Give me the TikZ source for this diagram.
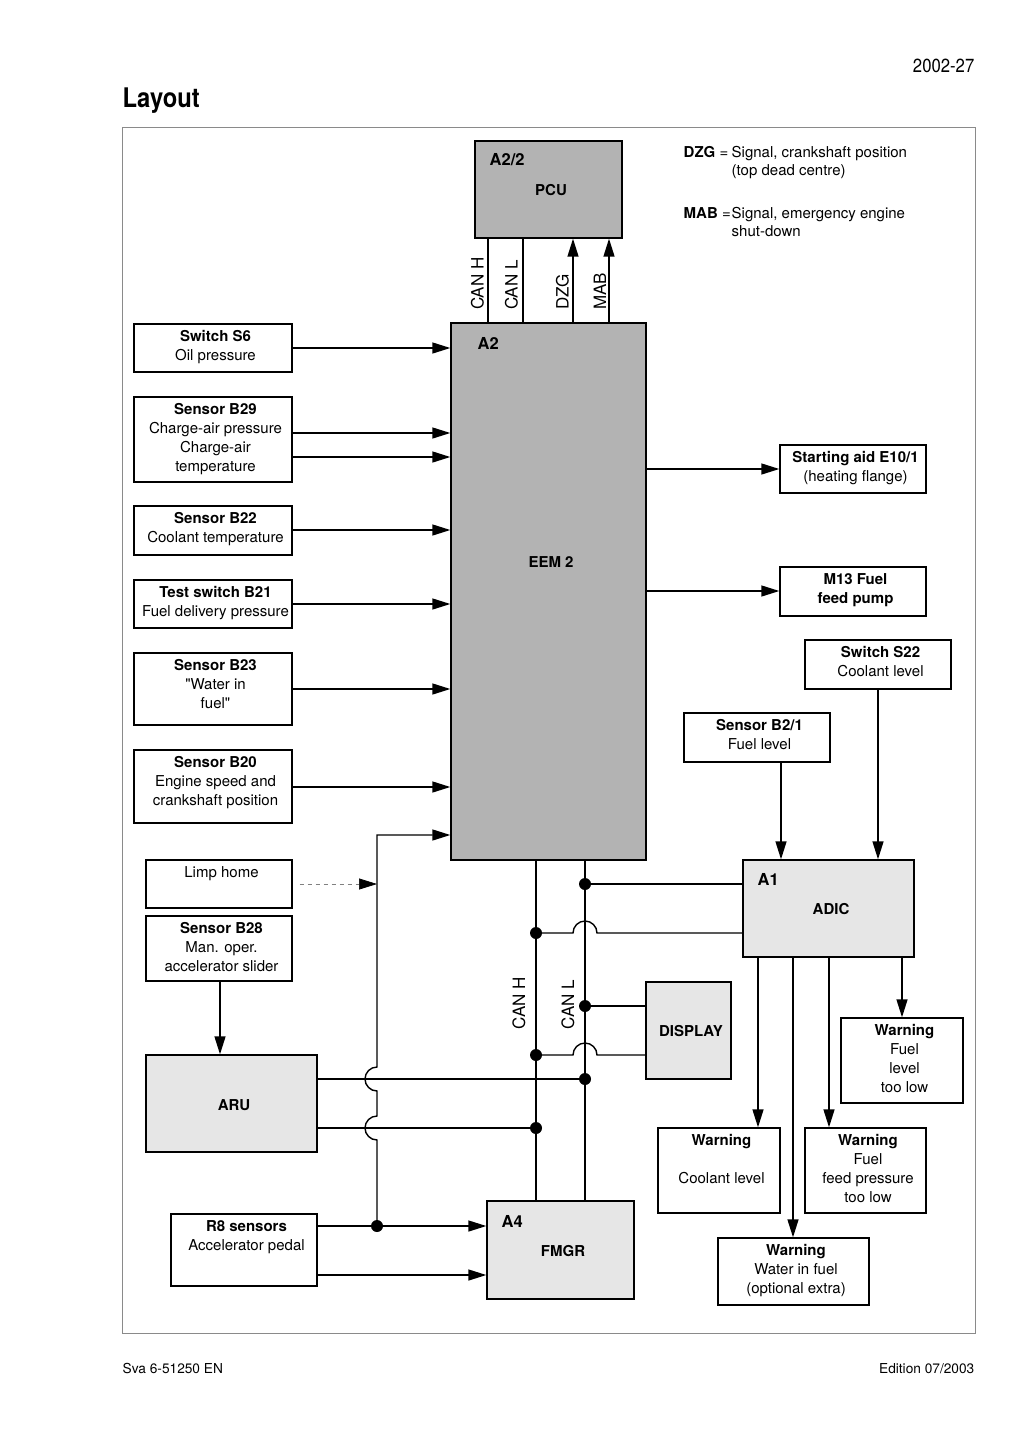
\documentclass[tikz,border=0pt]{standalone}
\usepackage{fontspec}
\setmainfont{TeX Gyre Heros}
\newfontfamily\narrowfont[FakeStretch=0.88]{TeX Gyre Heros}
\usetikzlibrary{arrows.meta,calc}
\definecolor{darkfill}{HTML}{B3B3B3}
\definecolor{lightfill}{HTML}{E6E6E6}
\definecolor{framegray}{HTML}{8A8A8A}
\newcommand\smallbx[6]{%
  \node[box,fill=white,minimum width=#4pt,minimum height=#5pt] (#1) at (#2,#3) {};
  \node[lbl] (#1t) at ([xshift=2.5pt,yshift=-6.5pt]#1.north) {#6};}
\begin{document}
\begin{tikzpicture}[x=1pt,y=-1pt,
  line width=1.4pt,
  box/.style={draw=black,line width=1.4pt,inner sep=0pt,rectangle},
  lbl/.style={inner sep=0pt,align=center,anchor=north,font=\fontsize{15}{19}\selectfont},
  txt/.style={inner sep=0pt,font=\fontsize{15}{19}\selectfont},
  bigtxt/.style={inner sep=0pt,font=\fontsize{17}{19}\selectfont},
  btxt/.style={inner sep=0pt,font=\fontsize{15}{19}\selectfont\bfseries},
  atxt/.style={inner sep=0pt,font=\fontsize{16.5}{19}\selectfont\bfseries},
  arr/.style={-{Triangle[length=18pt,width=11pt]}},
  dot/.style={circle,fill=black,inner sep=0pt,minimum size=12pt}]
\useasboundingbox (0,0) rectangle (1024,1447);

% header / footer
\node[inner sep=0pt,anchor=base east,font=\fontsize{19}{21}\narrowfont] (hdr) at (975,73) {2002-27};
\node[inner sep=0pt,anchor=base west,font=\fontsize{27}{30}\narrowfont\bfseries] (title) at (122,108) {Layout};
\node[inner sep=0pt,anchor=base west,font=\fontsize{13.7}{16}\selectfont] (ftl) at (122,1373) {Sva 6-51250 EN};
\node[inner sep=0pt,anchor=base east,font=\fontsize{13.7}{16}\selectfont] (ftr) at (975,1373) {Edition 07/2003};

% frame
\draw[framegray,line width=1pt] (122,128) rectangle (975,1333);

% big units
\node[box,fill=darkfill,minimum width=147pt,minimum height=97pt] (pcu) at (548.5,189.5) {};
\node[atxt,anchor=west] (pcut1) at (489,160) {A2/2};
\node[btxt] (pcut2) at (551,190) {PCU};

\node[box,fill=darkfill,minimum width=195pt,minimum height=537pt] (a2) at (548.5,591.5) {};
\node[atxt,anchor=west] (a2t1) at (477,343) {A2};
\node[btxt] (a2t2) at (551,562) {EEM 2};

\node[box,fill=lightfill,minimum width=171pt,minimum height=97pt] (adic) at (828.5,908.5) {};
\node[atxt,anchor=west] (adict1) at (757,879) {A1};
\node[btxt] (adict2) at (831,909) {ADIC};

\node[box,fill=lightfill,minimum width=85pt,minimum height=97pt] (disp) at (688.5,1030.5) {};
\node[btxt] (dispt) at (691,1031) {DISPLAY};

\node[box,fill=lightfill,minimum width=171pt,minimum height=97pt] (aru) at (231.5,1103.5) {};
\node[btxt] (arut) at (234,1105) {ARU};

\node[box,fill=lightfill,minimum width=147pt,minimum height=98pt] (fmgr) at (560.5,1250) {};
\node[atxt,anchor=west] (fmgrt1) at (501,1221) {A4};
\node[btxt] (fmgrt2) at (563,1251) {FMGR};

% legend
\node[txt,anchor=base west] (lg1) at (683,157.5) {\textbf{DZG} =};
\node[txt,anchor=base west] (lg2) at (731,157.5) {Signal, crankshaft position};
\node[txt,anchor=base west] (lg3) at (731,175.5) {(top dead centre)};
\node[txt,anchor=base west] (lg4) at (683,218.5) {\textbf{MAB} =};
\node[txt,anchor=base west] (lg5) at (731,218.5) {Signal, emergency engine};
\node[txt,anchor=base west] (lg6) at (731,236.5) {shut-down};

% small boxes
\smallbx{s6}{213}{348}{158}{48}{\textbf{Switch S6}\\Oil pressure}
\smallbx{b29}{213}{439.5}{158}{85}{\textbf{Sensor B29}\\Charge-air pressure\\Charge-air\\temperature}
\smallbx{b22}{213}{530.5}{158}{49}{\textbf{Sensor B22}\\Coolant temperature}
\smallbx{b21}{213}{604}{158}{48}{\textbf{Test switch B21}\\Fuel delivery pressure}
\smallbx{b23}{213}{689}{158}{72}{\textbf{Sensor B23}\\\textquotedbl Water in\\fuel\textquotedbl}
\smallbx{b20}{213}{786.5}{158}{73}{\textbf{Sensor B20}\\Engine speed and\\crankshaft position}
\smallbx{limp}{219}{884}{146}{48}{Limp home}
\smallbx{b28}{219}{948.5}{146}{65}{\textbf{Sensor B28}\\Man. oper.\\accelerator slider}
\smallbx{r8}{244}{1250}{146}{72}{\textbf{R8 sensors}\\Accelerator pedal}
\smallbx{e10}{853}{469}{146}{48}{\textbf{Starting aid E10/1}\\(heating flange)}
\smallbx{m13}{853}{591.5}{146}{49}{\textbf{M13 Fuel}\\\textbf{feed pump}}
\smallbx{s22}{878}{664.5}{146}{49}{\textbf{Switch S22}\\Coolant level}
\smallbx{b2a}{757}{737.5}{146}{49}{\textbf{Sensor B2/1}\\Fuel level}
\smallbx{wfl}{902}{1060.5}{122}{85}{\textbf{Warning}\\Fuel\\level\\too low}
\smallbx{wcl}{719}{1170.5}{122}{85}{\textbf{Warning}\\[19pt]Coolant level}
\smallbx{wfp}{865.5}{1170.5}{121}{85}{\textbf{Warning}\\Fuel\\feed pressure\\too low}
\smallbx{wwf}{793.5}{1271.5}{151}{67}{\textbf{Warning}\\Water in fuel\\(optional extra)}

% PCU - EEM links
\draw (pcu.south -| 488,0) -- (a2.north -| 488,0);
\draw (pcu.south -| 523,0) -- (a2.north -| 523,0);
\draw[arr] (a2.north -| 573,0) -- (pcu.south -| 573,0);
\draw[arr] (a2.north -| 609,0) -- (pcu.south -| 609,0);
\node[bigtxt,rotate=90,anchor=west] (lcanh1) at (477.5,310.5) {CAN H};
\node[bigtxt,rotate=90,anchor=west] (lcanl1) at (511.5,310.5) {CAN L};
\node[bigtxt,rotate=90,anchor=west] (ldzg) at (562.5,310.5) {DZG};
\node[bigtxt,rotate=90,anchor=west] (lmab) at (600,310.5) {MAB};

% inputs to EEM
\draw[arr] (s6.east) -- (a2.west |- s6.east);
\draw[arr] (b29.east |- 0,433) -- (a2.west |- 0,433);
\draw[arr] (b29.east |- 0,457) -- (a2.west |- 0,457);
\draw[arr] (b22.east |- 0,530) -- (a2.west |- 0,530);
\draw[arr] (b21.east) -- (a2.west |- b21.east);
\draw[arr] (b23.east) -- (a2.west |- b23.east);
\draw[arr] (b20.east |- 0,787) -- (a2.west |- 0,787);

% outputs of EEM
\draw[arr] (a2.east |- e10.west) -- (e10.west);
\draw[arr] (a2.east |- 0,591) -- (m13.west |- 0,591);

% ADIC inputs/outputs
\draw[arr] (s22.south) -- (adic.north -| s22.south);
\draw[arr] (b2a.south -| 781,0) -- (adic.north -| 781,0);
\draw[arr] (adic.south -| 902,0) -- (wfl.north);
\draw[arr] (adic.south -| 758,0) -- (wcl.north -| 758,0);
\draw[arr] (adic.south -| 793,0) -- (wwf.north -| 793,0);
\draw[arr] (adic.south -| 829,0) -- (wfp.north -| 829,0);

% sensor B28 to ARU
\draw[arr] (b28.south -| 220,0) -- (aru.north -| 220,0);

% CAN bus
\draw (a2.south -| 536,0) -- (fmgr.north -| 536,0);
\draw (a2.south -| 585,0) -- (fmgr.north -| 585,0);
\node[bigtxt,rotate=90,anchor=west] (lcanh2) at (519,1030) {CAN H};
\node[bigtxt,rotate=90,anchor=west] (lcanl2) at (568,1030) {CAN L};

\coordinate (d1) at (585,884);
\coordinate (d2) at (536,933);
\coordinate (d3) at (585,1006);
\coordinate (d4) at (536,1055);
\coordinate (d5) at (585,1079);
\coordinate (d6) at (536,1128);
\coordinate (d7) at (377,1226);

\draw (d1) -- (adic.west |- d1);
\draw (d2) -- (573,933) arc[start angle=180,end angle=0,radius=12pt] -- (adic.west |- d2);
\draw (d3) -- (disp.west |- d3);
\draw (d4) -- (573,1055) arc[start angle=180,end angle=0,radius=12pt] -- (disp.west |- d4);
\draw (aru.east |- d5) -- (d5);
\draw (aru.east |- d6) -- (d6);

% R8 / limp home path to EEM
\draw[arr] (d7) -- (377,1140) arc[start angle=-90,end angle=-270,radius=12pt]
  -- (377,1091) arc[start angle=-90,end angle=-270,radius=12pt]
  -- (377,835) -- (a2.west |- 0,835);
\draw[arr] (r8.east |- d7) -- (fmgr.west |- d7);
\draw[arr] (r8.east |- 0,1275) -- (fmgr.west |- 0,1275);
\draw[gray,line width=0.7pt,dash pattern=on 4pt off 4pt,-{Triangle[length=18pt,width=11pt,color=black]}]
  ([xshift=7pt]limp.east) -- (377,884);

% junction dots
\foreach \d in {d1,d2,d3,d4,d5,d6,d7} \node[dot] at (\d) {};
\end{tikzpicture}
\end{document}
